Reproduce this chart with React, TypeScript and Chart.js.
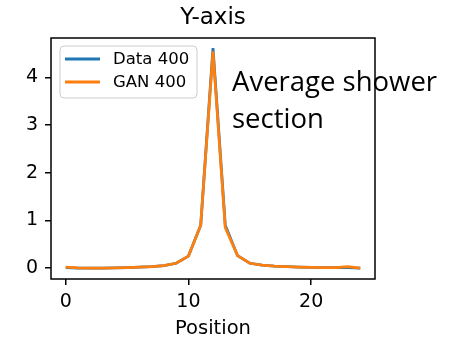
import React, { useEffect, useRef } from "react";
import { Chart, registerables } from "chart.js";

Chart.register(...registerables);

// Shower profile along the transverse position (25 cells)
const positions = [0, 1, 2, 3, 4, 5, 6, 7, 8, 9, 10, 11, 12, 13, 14, 15, 16, 17, 18, 19, 20, 21, 22, 23, 24];
const dataValues = [0.01, 0.0, 0.0, 0.0, 0.005, 0.01, 0.02, 0.03, 0.05, 0.1, 0.25, 0.9, 4.62, 0.9, 0.26, 0.1, 0.06, 0.04, 0.03, 0.02, 0.015, 0.01, 0.01, 0.01, 0.0];
const ganValues = [0.02, 0.005, 0.0, 0.0, 0.005, 0.01, 0.02, 0.03, 0.05, 0.1, 0.25, 0.9, 4.55, 0.85, 0.26, 0.1, 0.06, 0.04, 0.03, 0.02, 0.015, 0.01, 0.01, 0.03, 0.0];
const seriesLabels = ["Data 400", "GAN 400"];
const seriesColors = ["#1f77b4", "#ff7f0e"];
const xTicks = [0, 10, 20];
const yTicks = [0, 1, 2, 3, 4];
const titleText = "Y-axis";
const xAxisLabel = "Position";
const noteLines = ["Average shower", "section"];

const FONT = "'DejaVu Sans', sans-serif";

const decorPlugin = {
  id: "decor",
  afterDatasetsDraw(chart: any) {
    const { ctx, chartArea } = chart;
    const { left, right, top, bottom } = chartArea;
    ctx.save();

    // title centred over the plot area
    ctx.fillStyle = "#000";
    ctx.font = `23px ${FONT}`;
    ctx.textAlign = "center";
    ctx.textBaseline = "alphabetic";
    ctx.fillText(titleText, (left + right) / 2, 24);

    // annotation text
    ctx.font = "27.5px 'Open Sans', sans-serif";
    ctx.textAlign = "left";
    ctx.fillText(noteLines[0], 232, 91);
    ctx.fillText(noteLines[1], 232, 128);

    // axes frame
    ctx.strokeStyle = "#000";
    ctx.lineWidth = 1.5;
    ctx.strokeRect(left, top, right - left, bottom - top);

    // legend
    const bx = left + 9, by = top + 8, bw = 137, bh = 52, r = 4;
    ctx.beginPath();
    ctx.moveTo(bx + r, by);
    ctx.arcTo(bx + bw, by, bx + bw, by + bh, r);
    ctx.arcTo(bx + bw, by + bh, bx, by + bh, r);
    ctx.arcTo(bx, by + bh, bx, by, r);
    ctx.arcTo(bx, by, bx + bw, by, r);
    ctx.closePath();
    ctx.fillStyle = "rgba(255,255,255,0.8)";
    ctx.fill();
    ctx.strokeStyle = "#cccccc";
    ctx.lineWidth = 1;
    ctx.stroke();

    ctx.font = `16.5px ${FONT}`;
    ctx.textBaseline = "middle";
    chart.data.datasets.forEach((ds: any, i: number) => {
      const y = by + 13 + i * 23;
      ctx.strokeStyle = ds.borderColor;
      ctx.lineWidth = 2.8;
      ctx.beginPath();
      ctx.moveTo(bx + 5, y);
      ctx.lineTo(bx + 40, y);
      ctx.stroke();
      ctx.fillStyle = "#000";
      ctx.fillText(ds.label, bx + 53, y + 1);
    });

    ctx.restore();
  },
};

export default function App() {
  const canvasRef = useRef<HTMLCanvasElement>(null);

  useEffect(() => {
    if (!canvasRef.current) return;
    const chart = new Chart(canvasRef.current, {
      type: "line",
      data: {
        datasets: [dataValues, ganValues].map((vals, i) => ({
          label: seriesLabels[i],
          data: positions.map((p, j) => ({ x: p, y: vals[j] })),
          borderColor: seriesColors[i],
          backgroundColor: seriesColors[i],
          borderWidth: 2.8,
          pointRadius: 0,
          tension: 0,
          fill: false,
          // later series is painted on top
          order: seriesLabels.length - i,
        })),
      },
      options: {
        responsive: false,
        animation: false,
        layout: { padding: { left: 0, right: 87, top: 38, bottom: 0 } },
        plugins: {
          legend: { display: false },
          title: { display: false },
          tooltip: { enabled: false },
        },
        scales: {
          x: {
            type: "linear",
            min: -1.2,
            max: 25.2,
            afterBuildTicks: (s: any) => {
              s.ticks = xTicks.map((v) => ({ value: v }));
            },
            afterFit: (s: any) => {
              s.height = 60;
            },
            border: { display: false },
            grid: {
              drawOnChartArea: false,
              drawTicks: true,
              tickLength: 6,
              color: "#000",
              lineWidth: 1.5,
            },
            ticks: {
              color: "#000",
              font: { family: FONT, size: 19 },
              padding: 6,
              maxRotation: 0,
              callback: (v: any) => String(v),
            },
            title: {
              display: true,
              text: xAxisLabel,
              color: "#000",
              font: { family: FONT, size: 19.5, lineHeight: 1.0 },
              padding: { top: 2, bottom: 0 },
            },
          },
          y: {
            type: "linear",
            min: -0.23,
            max: 4.83,
            afterBuildTicks: (s: any) => {
              s.ticks = yTicks.map((v) => ({ value: v }));
            },
            afterFit: (s: any) => {
              s.width = 51;
            },
            border: { display: false },
            grid: {
              drawOnChartArea: false,
              drawTicks: true,
              tickLength: 6,
              color: "#000",
              lineWidth: 1.5,
            },
            ticks: {
              color: "#000",
              font: { family: FONT, size: 19 },
              padding: 7,
              callback: (v: any) => String(v),
            },
          },
        },
      },
      plugins: [decorPlugin],
    });
    return () => chart.destroy();
  }, []);

  return (
    <div style={{ position: "fixed", left: 0, top: 0, width: 462, height: 339, background: "#fff" }}>
      <canvas ref={canvasRef} width={462} height={339} />
    </div>
  );
}
